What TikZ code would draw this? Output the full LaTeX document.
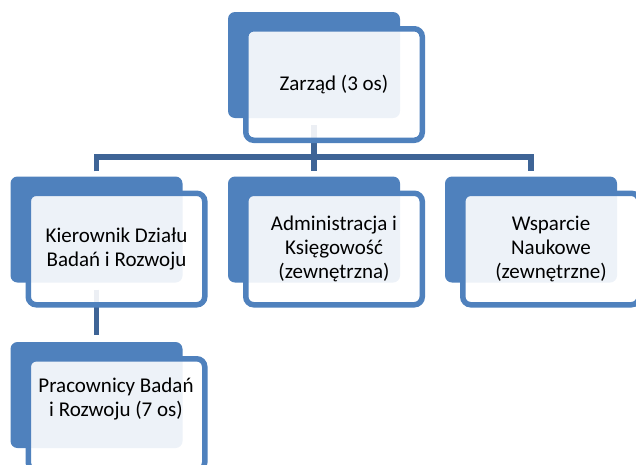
\documentclass[tikz,border=0pt]{standalone}
\usepackage{fontspec}
\setmainfont{Carlito}
\definecolor{accent}{HTML}{4F81BD}
\definecolor{conn}{HTML}{3E6496}
\begin{document}
\begin{tikzpicture}[x=1pt,y=-1pt,
  backbox/.style={fill=accent, rounded corners=7pt, minimum width=172pt, minimum height=106pt, inner sep=0pt},
  frontbox/.style={draw=accent, line width=5.5pt, fill=white, fill opacity=0.9, text opacity=1,
    rounded corners=8pt, minimum width=176.5pt, minimum height=111.5pt, inner sep=0pt,
    align=center, text=black, font=\fontsize{21}{24}\selectfont},
  plaintext/.style={align=center, text=black, inner sep=0pt, font=\fontsize{21}{24}\selectfont},
  link/.style={draw=conn, line width=5.5pt}]
\useasboundingbox (0,0) rectangle (636,464);
\clip (0,0) rectangle (636,464);
% anchor positions of the units
\coordinate (hub) at (314,157);
\node[minimum width=172pt, minimum height=106pt, inner sep=0pt] (zb) at (314,65) {};
\node[minimum width=172pt, minimum height=106pt, inner sep=0pt] (kb) at (96.5,229.5) {};
\node[minimum width=172pt, minimum height=106pt, inner sep=0pt] (ab) at (314,229.5) {};
\node[minimum width=172pt, minimum height=106pt, inner sep=0pt] (wb) at (531,229.5) {};
\node[minimum width=172pt, minimum height=106pt, inner sep=0pt] (pb) at (96.5,395) {};
% connectors
\draw[link] ([yshift=-7pt]zb.south) -- (hub);
\draw[link] ([yshift=5pt]kb.north) |- (hub) -| ([yshift=5pt]wb.north);
\draw[link] (hub) -- ([yshift=5pt]ab.north);
\draw[link] ([yshift=-7pt]kb.south) -- ([yshift=7pt]pb.north);
% blue back boxes
\node[backbox] (zbb) at (zb) {};
\node[backbox] (kbb) at (kb) {};
\node[backbox] (abb) at (ab) {};
\node[backbox] (wbb) at (wb) {};
\node[backbox] (pbb) at (pb) {};
% front boxes
\node[frontbox] (zf) at (334,84.5) {Zarząd (3 os)};
\node[frontbox] (kf) at (116.5,249) {Kierownik Działu\\Badań i Rozwoju};
\node[frontbox] (af) at (334,249) {Administracja i\\Księgowość\\(zewnętrzna)};
\node[frontbox] (wf) at (551,249) {Wsparcie\\Naukowe\\(zewnętrzne)};
\node[frontbox] (pf) at (116.5,414.5) {};
\node[plaintext] (pt) at (116,398.5) {Pracownicy Badań\\i Rozwoju (7 os)};
\end{tikzpicture}
\end{document}
